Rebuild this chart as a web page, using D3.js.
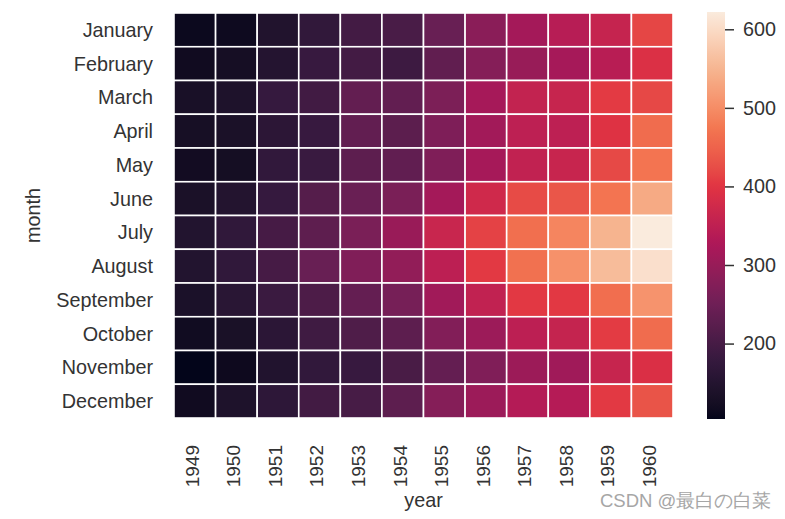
<!DOCTYPE html>
<html><head><meta charset="utf-8">
<script src="https://cdn.jsdelivr.net/npm/d3@7"></script>
<style>body{margin:0;background:#fff}svg{display:block}text{font-family:"Liberation Sans",Arial,sans-serif}</style>
</head><body><svg id="c" width="785" height="519"></svg>
<script>
const months = ["January","February","March","April","May","June","July","August","September","October","November","December"];
const years = ["1949","1950","1951","1952","1953","1954","1955","1956","1957","1958","1959","1960"];
const passengers = [
  [112,115,145,171,196,204,242,284,315,340,360,417],
  [118,126,150,180,196,188,233,277,301,318,342,391],
  [132,141,178,193,236,235,267,317,356,362,406,419],
  [129,135,163,181,235,227,269,313,348,348,396,461],
  [121,125,172,183,229,234,270,318,355,363,420,472],
  [135,149,178,218,243,264,315,374,422,435,472,535],
  [148,170,199,230,264,302,364,413,465,491,548,622],
  [148,170,199,242,272,293,347,405,467,505,559,606],
  [136,158,184,209,237,259,312,355,404,404,463,508],
  [119,133,162,191,211,229,274,306,347,359,407,461],
  [104,114,146,172,180,203,237,271,305,310,362,390],
  [118,140,166,194,201,229,278,306,336,337,405,432]
];
const cbarTicks = [200,300,400,500,600];
const rocketStops = ["#03051a","#35193e","#701f57","#ad1759","#e13342","#f37651","#f6b48f","#faebdd"];

const svg = d3.select("#c");
const L = 174, R = 673, T = 13, B = 418;
const x = d3.scaleBand().domain(years).range([L, R]);
const y = d3.scaleBand().domain(months).range([T, B]);
const flat = passengers.flat();
const vmin = d3.min(flat), vmax = d3.max(flat);
const t = d3.scaleLinear().domain([vmin, vmax]).range([0, 1]);
const ramp = d3.scaleLinear().domain(rocketStops.map((_, i) => i / (rocketStops.length - 1))).range(rocketStops).interpolate(d3.interpolateLab);
const color = v => ramp(t(v));
const txt = "#333333";

const cells = [];
months.forEach((m, i) => years.forEach((yr, j) => cells.push({m, yr, v: passengers[i][j]})));
svg.append("g").selectAll("rect").data(cells).join("rect")
  .attr("x", d => x(d.yr)).attr("y", d => y(d.m))
  .attr("width", x.bandwidth()).attr("height", y.bandwidth())
  .attr("fill", d => color(d.v)).attr("stroke", "#fff").attr("stroke-width", 1.6);

// y tick labels
svg.append("g").selectAll("text").data(months).join("text")
  .attr("x", 153).attr("y", d => y(d) + y.bandwidth() / 2).attr("dy", "0.35em")
  .attr("text-anchor", "end").attr("font-size", 19.8).attr("fill", txt).text(d => d);
// x tick labels
svg.append("g").selectAll("text").data(years).join("text")
  .attr("transform", d => `translate(${x(d) + x.bandwidth() / 2},445) rotate(-90)`)
  .attr("dy", "0.2em").attr("text-anchor", "end").attr("font-size", 19).attr("fill", txt).text(d => d);
// axis labels
svg.append("text").attr("x", (L + R) / 2).attr("y", 507).attr("text-anchor", "middle")
  .attr("font-size", 19.8).attr("fill", txt).text("year");
svg.append("text").attr("transform", `translate(40,${(T + B) / 2}) rotate(-90)`).attr("text-anchor", "middle")
  .attr("font-size", 19.8).attr("fill", txt).text("month");

// colorbar
const cbX = 707, cbW = 18, cbT = 12, cbB = 419;
const cy = d3.scaleLinear().domain([vmin, vmax]).range([cbB, cbT]);
const grad = svg.append("defs").append("linearGradient").attr("id", "g").attr("x1", 0).attr("y1", 1).attr("x2", 0).attr("y2", 0);
d3.range(0, 1.0001, 0.02).forEach(p => grad.append("stop").attr("offset", p).attr("stop-color", ramp(p)));
svg.append("rect").attr("x", cbX).attr("y", cbT).attr("width", cbW).attr("height", cbB - cbT).attr("fill", "url(#g)");
const ax = svg.append("g").attr("transform", `translate(${cbX + cbW},0)`)
  .call(d3.axisRight(cy).tickValues(cbarTicks).tickSize(9).tickPadding(9));
ax.select(".domain").remove();
ax.selectAll("line").attr("stroke", txt).attr("stroke-width", 1.5);
ax.selectAll("text").attr("font-size", 19.8).attr("fill", txt).attr("font-family", '"Liberation Sans",Arial,sans-serif');

// watermark
svg.append("text").attr("x", 600).attr("y", 507).attr("font-size", 18.5).attr("fill", "#a6a6a6")
  .attr("font-family", '"Liberation Sans","Noto Sans CJK SC",sans-serif').text("CSDN @最白の白菜");
</script></body></html>
